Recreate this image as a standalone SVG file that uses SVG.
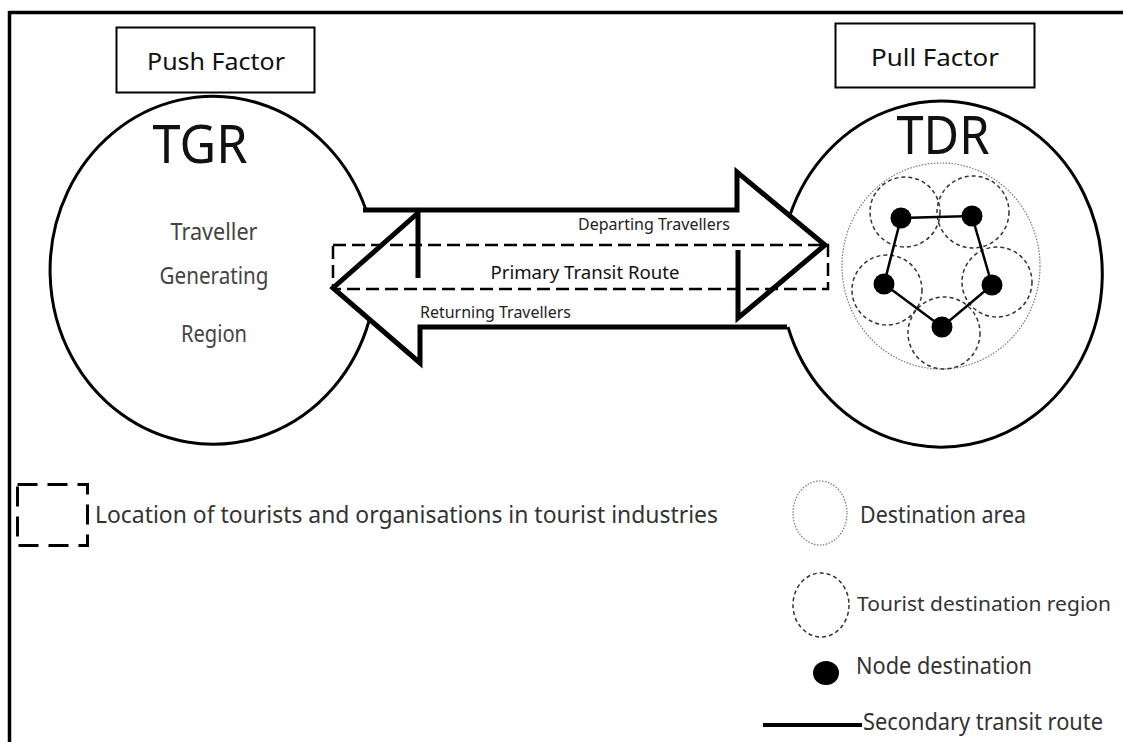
<svg xmlns="http://www.w3.org/2000/svg" width="1123" height="742" viewBox="0 0 1123 742">
<style>
.t{font-family:"Noto Sans","Open Sans","DejaVu Sans",sans-serif;}
.big{font-size:52px;fill:#111;}
.lab{font-size:24px;fill:#111;}
.reg{font-size:23px;fill:#444;}
.leg{font-size:23px;fill:#333;}
.leg2{font-size:20px;fill:#333;}
.arr{font-size:16px;fill:#222;}
.thick{fill:none;stroke:#000;stroke-width:5;stroke-linejoin:miter;}
.circ{fill:none;stroke:#000;stroke-width:3;}
.tdr{fill:none;stroke:#333;stroke-width:1.5;stroke-dasharray:4 3;}
.area{fill:none;stroke:#777;stroke-width:1.2;stroke-dasharray:1.5 1.5;}
.node{fill:#000;}
</style>
<rect width="1123" height="742" fill="#fff"/>
<g id="frame">
<line x1="9" y1="12.5" x2="1123" y2="12.5" stroke="#000" stroke-width="3.5"/>
<line x1="9.5" y1="11" x2="9.5" y2="742" stroke="#000" stroke-width="3.5"/>
</g>
<g id="push-factor">
<rect x="116.5" y="27.5" width="198" height="65" fill="#fff" stroke="#000" stroke-width="2"/>
<text class="t lab" x="216" y="70" text-anchor="middle" textLength="138" lengthAdjust="spacingAndGlyphs">Push Factor</text>
</g>
<g id="pull-factor">
<rect x="835.5" y="23.5" width="199" height="64" fill="#fff" stroke="#000" stroke-width="2"/>
<text class="t lab" x="935" y="66" text-anchor="middle" textLength="128" lengthAdjust="spacingAndGlyphs">Pull Factor</text>
</g>
<g id="tgr">
<path class="circ" d="M366,210 A163,174 0 1 0 369,321"/>
<text class="t big" x="200" y="163" text-anchor="middle" textLength="95" lengthAdjust="spacingAndGlyphs">TGR</text>
<text class="t reg" x="214" y="240" text-anchor="middle" textLength="87" lengthAdjust="spacingAndGlyphs">Traveller</text>
<text class="t reg" x="214" y="284" text-anchor="middle" textLength="109" lengthAdjust="spacingAndGlyphs">Generating</text>
<text class="t reg" x="214" y="342" text-anchor="middle" textLength="66" lengthAdjust="spacingAndGlyphs">Region</text>
</g>
<g id="tdr">
<path class="circ" d="M790,215 A161,173 0 1 1 788,327"/>
<text class="t big" x="943" y="154" text-anchor="middle" textLength="93" lengthAdjust="spacingAndGlyphs">TDR</text>
<ellipse class="area" cx="941" cy="266" rx="99" ry="103"/>
<circle class="tdr" cx="905" cy="212" r="35"/>
<circle class="tdr" cx="973" cy="212" r="36"/>
<circle class="tdr" cx="887" cy="290" r="35"/>
<circle class="tdr" cx="997" cy="282" r="35"/>
<circle class="tdr" cx="944" cy="333" r="36"/>
<polygon points="901,218 972,216 992,285 942,327 884,284" fill="none" stroke="#000" stroke-width="2.5"/>
<circle class="node" cx="901" cy="218" r="10.5"/>
<circle class="node" cx="972" cy="216" r="10.5"/>
<circle class="node" cx="992" cy="285" r="10.5"/>
<circle class="node" cx="942" cy="327" r="10.5"/>
<circle class="node" cx="884" cy="284" r="10.5"/>
</g>
<g id="transit-route">
<rect x="333" y="245" width="495" height="44" fill="none" stroke="#000" stroke-width="2.5" stroke-dasharray="13 6"/>
<text class="t" x="585" y="279" text-anchor="middle" font-size="18" fill="#111" textLength="189" lengthAdjust="spacingAndGlyphs">Primary Transit Route</text>
</g>
<g id="connectors">
<path class="thick" d="M363,210 L737,210 L737,172 L825,245 L738,318 L738,250"/>
<path class="thick" d="M418,278 L418,213 L333,288 L420,363 L420,327 L787,327"/>
<text class="t arr" x="578" y="230" textLength="152" lengthAdjust="spacingAndGlyphs">Departing Travellers</text>
<text class="t arr" x="420" y="318" textLength="151" lengthAdjust="spacingAndGlyphs">Returning Travellers</text>
</g>
<g id="legend">
<rect x="17.5" y="484.5" width="70" height="61" fill="none" stroke="#000" stroke-width="3" stroke-dasharray="20 10"/>
<text class="t leg" x="95" y="523" textLength="623" lengthAdjust="spacingAndGlyphs">Location of tourists and organisations in tourist industries</text>
<ellipse class="area" cx="820" cy="513" rx="27" ry="32" stroke="#444"/>
<text class="t leg" x="860" y="523" textLength="166" lengthAdjust="spacingAndGlyphs">Destination area</text>
<ellipse class="tdr" cx="821" cy="605" rx="28" ry="32"/>
<text class="t leg2" x="857" y="611" textLength="254" lengthAdjust="spacingAndGlyphs">Tourist destination region</text>
<ellipse class="node" cx="826" cy="673" rx="13" ry="12"/>
<text class="t leg" x="856" y="674" textLength="176" lengthAdjust="spacingAndGlyphs">Node destination</text>
<line x1="763" y1="725" x2="862" y2="725" stroke="#000" stroke-width="4"/>
<text class="t leg" x="863" y="730" textLength="240" lengthAdjust="spacingAndGlyphs">Secondary transit route</text>
</g>
</svg>
